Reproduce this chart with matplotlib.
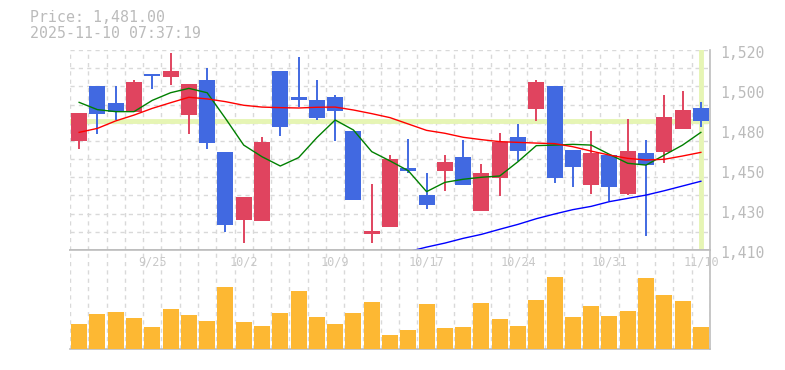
import numpy as np
import matplotlib
matplotlib.use("Agg")
import matplotlib.pyplot as plt
import matplotlib.transforms as mtransforms

plt.rcParams['font.family'] = ['DejaVu Sans Mono']

# ---------------- data ----------------
dates = ["9/18", "9/19", "9/22", "9/24", "9/25", "9/26", "9/29", "9/30", "10/1", "10/2",
         "10/3", "10/6", "10/7", "10/8", "10/9", "10/10", "10/14", "10/15", "10/16", "10/17",
         "10/20", "10/21", "10/22", "10/23", "10/24", "10/27", "10/28", "10/29", "10/30", "10/31",
         "11/4", "11/5", "11/6", "11/7", "11/10"]
tick_dates = ["9/25", "10/2", "10/9", "10/17", "10/24", "10/31", "11/10"]

opens = [1470, 1500, 1491, 1486, 1507, 1505, 1484, 1503.5, 1464, 1426.7,
         1426, 1508.5, 1494.2, 1492.5, 1494.2, 1475.5, 1419, 1422.8, 1455.1, 1440.2,
         1453.6, 1461.1, 1431.6, 1449.8, 1472.1, 1487.7, 1500.2, 1465, 1445.9, 1462.2,
         1441, 1463.3, 1464.1, 1476.8, 1488.1]
highs = [1485.4, 1500, 1500, 1503.5, 1507, 1518.3, 1501.3, 1510.1, 1464, 1439.2,
         1472.1, 1508.5, 1516.1, 1503.5, 1495.2, 1475.5, 1446.3, 1462.2, 1471, 1452.3,
         1462.2, 1470.3, 1457.3, 1474.3, 1479.3, 1503.5, 1500.2, 1465, 1475.5, 1462.2,
         1482, 1470.5, 1495.2, 1497.4, 1491.4]
lows = [1465.7, 1474, 1481.3, 1486, 1498.7, 1500.9, 1474, 1465.7, 1420.1, 1414,
        1426, 1472.9, 1488.8, 1481.7, 1470.1, 1437.7, 1414, 1422.8, 1452.2, 1432.7,
        1442.6, 1445.9, 1431.6, 1439.9, 1459.1, 1481.1, 1447, 1444.8, 1441, 1437.1,
        1440.2, 1417.9, 1458, 1476.8, 1477.8]
closes = [1485.4, 1484.8, 1486.1, 1502.4, 1505.9, 1508.4, 1501.3, 1469, 1423.9, 1439.2,
          1469.4, 1477.8, 1492.7, 1482.8, 1486.6, 1437.7, 1420.5, 1460, 1453.6, 1434.9,
          1458.4, 1445.9, 1452.3, 1469.4, 1464.6, 1502.4, 1449.8, 1455.8, 1463.3, 1444.8,
          1464.4, 1456.9, 1483.1, 1487, 1481]
ma5 = [1491.2, 1487.2, 1486.1, 1486.1, 1492.3, 1496.5, 1498.9, 1496.5, 1482.4, 1467.7,
       1461.3, 1456.2, 1460.8, 1471.8, 1481.5, 1476, 1464.1, 1459, 1453.6, 1442.1,
       1447.2, 1448.9, 1450, 1450.7, 1458.6, 1467.4, 1467.7, 1468.1, 1467.7, 1462.6,
       1457.7, 1456.7, 1462.2, 1467.7, 1474.7]
ma25 = [1474.7, 1476.9, 1481, 1484.2, 1487.9, 1491, 1494, 1493.1, 1491.6, 1489.6,
        1488.6, 1488.3, 1488.1, 1488.5, 1488.6, 1487, 1485, 1482.8, 1479.3, 1475.8,
        1474.2, 1472, 1470.7, 1469.6, 1469.2, 1468.8, 1468.5, 1466.8, 1464.4, 1462.2,
        1460.4, 1459.5, 1459.9, 1461.7, 1463.7]
ma75 = [None] * 18 + [1409.1, 1411.6, 1413.8, 1416.4, 1418.6, 1421.4, 1424.1, 1427.2, 1429.8,
                      1432.2, 1434, 1436.6, 1438.4, 1440.2, 1442.6, 1445.2, 1447.8]
volumes = [25000, 35000, 37000, 31000, 22000, 40000, 34000, 28000, 62000, 27000,
           23000, 36000, 58000, 32000, 25000, 36000, 47000, 14000, 19000, 45000,
           21000, 22000, 46000, 30000, 23000, 49000, 72000, 32000, 43000, 33000,
           38000, 71000, 54000, 48000, 22000]
last_price = 1481.00
title_price = "Price: 1,481.00"
title_time = "2025-11-10 07:37:19"
y_min, y_max = 1410, 1520

# ---------------- styles ----------------
UP = "#E0445F"
DOWN = "#4169E1"
VOLC = "#FDB833"
HL = "#E6F5B4"
GRID = "#D9D9D9"
FRAME = "#BDBDBD"
TXT = "#BBBBBB"

W, H = 785, 370
fig = plt.figure(figsize=(W / 100, H / 100), dpi=100)
fig.patch.set_facecolor("white")

x0, x1 = 70, 710
ax = fig.add_axes([x0 / W, (H - 250) / H, (x1 - x0) / W, 200 / H])
axv = fig.add_axes([x0 / W, (H - 349) / H, (x1 - x0) / W, 99 / H])

n = len(dates)
x = np.arange(n)
o = np.array(opens, float); c = np.array(closes, float)
hi = np.array(highs, float); lo = np.array(lows, float)

for a in (ax, axv):
    a.set_xlim(-0.5, n - 0.5)
    for k in range(n + 1):
        a.axvline(k - 0.5, color=GRID, lw=1, ls=(0, (3, 3)), zorder=0)
    a.tick_params(left=False, bottom=False, labelleft=False, labelbottom=False, right=False)
    a.spines['left'].set_visible(False)
    for s in ('right', 'bottom', 'top'):
        a.spines[s].set_color(FRAME)
        a.spines[s].set_linewidth(1.2)
ax.spines['top'].set_visible(False)

ax.set_ylim(y_min, y_max)
for v in np.arange(y_min, y_max + 1, 10):
    ax.axhline(v, color=GRID, lw=1, ls=(0, (3, 3)), zorder=0)

# highlight of current price / last bar
ax.axhline(last_price, color=HL, lw=3.5, zorder=1)
ax.axvline(x[-1], color=HL, lw=3.5, zorder=1)

# candles
cols = [UP if cc >= oo else DOWN for oo, cc in zip(o, c)]
ax.vlines(x, lo, hi, colors=cols, lw=1.4, zorder=3)
body_bottom = np.minimum(o, c)
body_h = np.maximum(np.abs(c - o), 0.6)
ax.bar(x, body_h, bottom=body_bottom, width=0.875, color=cols, zorder=4, linewidth=0)

# moving averages
ma75_arr = np.array([np.nan if v is None else v for v in ma75], float)
ax.plot(x, ma5, color="green", lw=1.0, zorder=5)
ax.plot(x, ma25, color="red", lw=1.0, zorder=5)
ax.plot(x, ma75_arr, color="blue", lw=1.0, zorder=5)

# y labels on the right (rounded to tens)
lab_tr = ax.get_yaxis_transform() + mtransforms.ScaledTranslation(10 / 100, -3 / 100, fig.dpi_scale_trans)
for t in np.linspace(y_min, y_max, 6):
    ax.text(1.0, t, f"{int(round(t, -1)):,}", transform=lab_tr,
            ha="left", va="center", fontsize=10.6, color=TXT)

# volume
axv.set_ylim(0, max(volumes) * 1.375)
axv.bar(x, volumes, width=0.875, color=VOLC, zorder=3, linewidth=0)

# date labels
blend = mtransforms.blended_transform_factory(axv.transData, axv.transAxes)
for d in tick_dates:
    i = dates.index(d)
    axv.text(x[i], 0.88, d, transform=blend, ha="center", va="center",
             fontsize=8.6, color="#C8C8C8", zorder=6)

# header text
fig.text(30 / W, 1 - 18 / H, title_price, ha="left", va="center", fontsize=10.7, color=TXT)
fig.text(30 / W, 1 - 33 / H, title_time, ha="left", va="center", fontsize=10.7, color=TXT)

fig.savefig("out.png", dpi=100)
